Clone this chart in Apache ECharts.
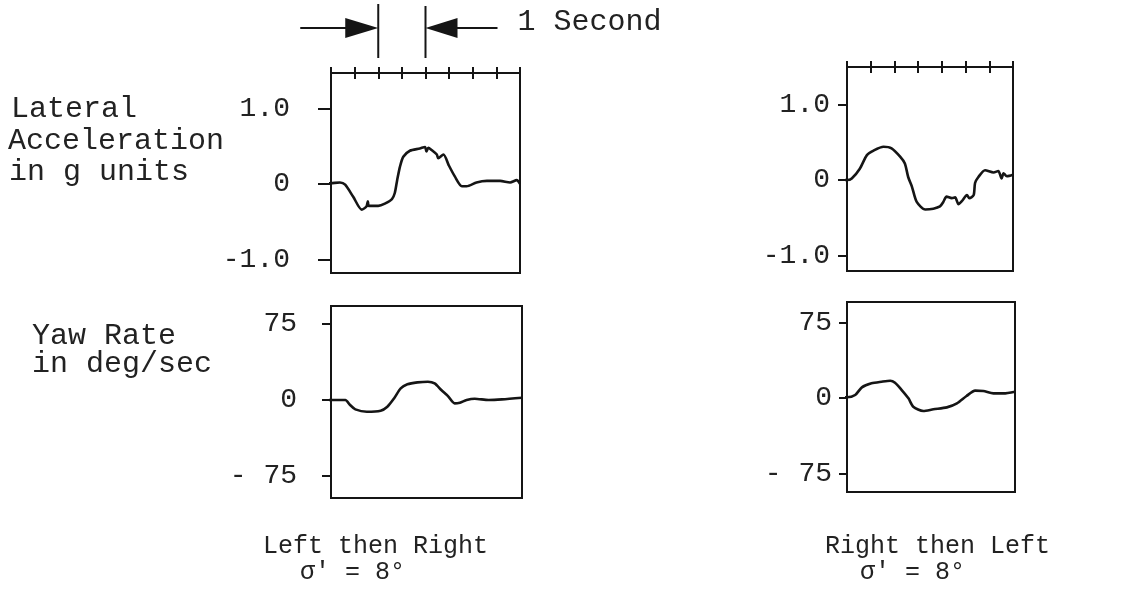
<!DOCTYPE html>
<html><head><meta charset="utf-8">
<script src="https://cdn.jsdelivr.net/npm/echarts@6/dist/echarts.min.js"></script>
<style>html,body{margin:0;padding:0;background:#fff}#c{width:1121px;height:598px}</style>
</head><body><div id="c"></div>
<script>
// ---- tick labels ----
const accelTicks = [-1, 0, 1];
const accelTickLabels = ['-1.0', '0', '1.0'];
const yawTicks = [-75, 0, 75];
const yawTickLabels = ['- 75', '0', '75'];

// ---- Left then Right (time in s) ----
const lrAccelTime = [-0.45, 0, 0.19, 0.30, 0.47, 0.65, 0.75, 0.78, 0.80, 1.0, 1.14, 1.29, 1.35, 1.40, 1.46, 1.53, 1.67, 1.88, 1.99, 2.02, 2.06, 2.13, 2.24, 2.27, 2.38, 2.49, 2.62, 2.77, 2.87, 3.08, 3.30, 3.58, 3.79, 3.93, 4.0];
const lrAccel = [0, 0.01, 0.02, -0.01, -0.17, -0.34, -0.30, -0.23, -0.29, -0.29, -0.26, -0.20, -0.12, 0.05, 0.23, 0.36, 0.44, 0.47, 0.49, 0.43, 0.48, 0.45, 0.39, 0.34, 0.39, 0.25, 0.10, -0.03, -0.03, 0.02, 0.04, 0.04, 0.02, 0.05, 0.0];
const lrYawTime = [-0.33, 0, 0.30, 0.40, 0.51, 0.75, 1.04, 1.18, 1.32, 1.46, 1.60, 1.81, 2.03, 2.17, 2.31, 2.45, 2.59, 2.70, 2.84, 3.01, 3.30, 3.58, 4.0];
const lrYaw = [0, 0, 0, -4.9, -9.2, -11.5, -10.5, -6.6, 1.6, 11.5, 15.5, 17.4, 18.1, 16.4, 9.9, 3.9, -3.3, -2.6, 0, 1.3, 0, 0.6, 2.3];

// ---- Right then Left ----
const rlAccelTime = [-0.36, 0, 0.10, 0.27, 0.42, 0.56, 0.77, 0.94, 1.12, 1.22, 1.29, 1.37, 1.47, 1.65, 1.82, 1.96, 2.03, 2.10, 2.21, 2.28, 2.35, 2.42, 2.53, 2.58, 2.67, 2.70, 2.77, 2.91, 3.09, 3.19, 3.26, 3.30, 3.37, 3.5];
const rlAccel = [0, 0, 0.02, 0.15, 0.33, 0.39, 0.44, 0.42, 0.31, 0.22, 0.04, -0.09, -0.29, -0.39, -0.38, -0.35, -0.29, -0.22, -0.24, -0.23, -0.32, -0.28, -0.20, -0.24, -0.20, -0.04, 0.04, 0.13, 0.10, 0.12, 0.02, 0.09, 0.05, 0.07];
const rlYawTime = [-0.25, 0, 0.17, 0.31, 0.51, 0.72, 0.90, 1.0, 1.14, 1.28, 1.38, 1.59, 1.80, 2.08, 2.29, 2.49, 2.67, 2.84, 3.05, 3.26, 3.5];
const rlYaw = [0.7, 0.7, 3, 10.6, 14.6, 16.2, 17.2, 15.2, 7.9, -0.3, -8.6, -12.9, -11.2, -9.3, -5.3, 2.0, 7.3, 6.9, 4.6, 4.6, 6.3];

const FONT = '"Liberation Mono", "Courier New", monospace';
const INK = '#151515';
const zip = (t, v) => t.map((x, i) => [x, v[i]]);

function topX(grid, max) {
  return {
    type: 'value', gridIndex: grid, position: 'top', offset: 6, min: 0, max: max, interval: 0.5,
    axisLine: { show: false, onZero: false }, splitLine: { show: false }, axisLabel: { show: false },
    axisTick: { show: true, inside: true, length: 12, lineStyle: { color: INK, width: 2 } }
  };
}
function hiddenX(grid, max) {
  return { type: 'value', gridIndex: grid, min: 0, max: max, show: false, axisLine: { onZero: false } };
}
function yAx(grid, min, max, ticks, labels, tickLen, margin) {
  return {
    type: 'value', gridIndex: grid, min: min, max: max,
    axisLine: { show: false, onZero: false }, splitLine: { show: false },
    axisTick: { show: true, length: tickLen, customValues: ticks, lineStyle: { color: INK, width: 2 } },
    axisLabel: {
      customValues: ticks, margin: margin, color: '#222', fontFamily: FONT, fontSize: 28,
      formatter: v => labels[ticks.indexOf(v)]
    }
  };
}
function line(xi, yi, data) {
  return {
    type: 'line', xAxisIndex: xi, yAxisIndex: yi, data: data, showSymbol: false, symbol: 'none',
    smooth: 0.25, clip: false, lineStyle: { color: INK, width: 2.6 }, silent: true
  };
}
const border = { show: true, borderColor: INK, borderWidth: 2, backgroundColor: 'transparent' };

const chart = echarts.init(document.getElementById('c'), null, { renderer: 'canvas' });
chart.setOption({
  animation: false,
  backgroundColor: '#fff',
  grid: [
    Object.assign({ left: 331, top: 73, width: 189, height: 200 }, border),
    Object.assign({ left: 331, top: 306, width: 191, height: 192 }, border),
    Object.assign({ left: 847, top: 67, width: 166, height: 204 }, border),
    Object.assign({ left: 847, top: 302, width: 168, height: 190 }, border)
  ],
  xAxis: [
    topX(0, 4), hiddenX(1, 4),
    topX(2, 3.5), hiddenX(3, 3.5)
  ],
  yAxis: [
    yAx(0, -1.18, 1.47, accelTicks, accelTickLabels, 13, 41),
    yAx(1, -96.7, 92.8, yawTicks, yawTickLabels, 9, 34),
    yAx(2, -1.205, 1.497, accelTicks, accelTickLabels, 9, 17),
    yAx(3, -93.4, 95.4, yawTicks, yawTickLabels, 8, 15)
  ],
  series: [
    line(0, 0, zip(lrAccelTime, lrAccel)),
    line(1, 1, zip(lrYawTime, lrYaw)),
    line(2, 2, zip(rlAccelTime, rlAccel)),
    line(3, 3, zip(rlYawTime, rlYaw))
  ]
});

// "1 Second" marker placed via the top-left axis scale (t = 1 s and 2 s)
const x1 = chart.convertToPixel({ xAxisIndex: 0 }, 1);
const x2 = chart.convertToPixel({ xAxisIndex: 0 }, 2);
const ay = 28;
function txt(text, x, y, size) {
  return { type: 'text', x: x, y: y, silent: true,
    style: { text: text, fill: '#222', font: size + 'px ' + FONT, align: 'left', verticalAlign: 'middle' } };
}
chart.setOption({
  graphic: [
    { type: 'line', shape: { x1: x1 - 78, y1: ay, x2: x1 - 30, y2: ay }, style: { stroke: INK, lineWidth: 2 } },
    { type: 'polygon', shape: { points: [[x1 - 33, ay - 10], [x1, ay], [x1 - 33, ay + 10]] }, style: { fill: INK } },
    { type: 'line', shape: { x1: x1, y1: 4, x2: x1, y2: 58 }, style: { stroke: INK, lineWidth: 2 } },
    { type: 'line', shape: { x1: x2, y1: 6, x2: x2, y2: 58 }, style: { stroke: INK, lineWidth: 2 } },
    { type: 'polygon', shape: { points: [[x2 + 32, ay - 10], [x2, ay], [x2 + 32, ay + 10]] }, style: { fill: INK } },
    { type: 'line', shape: { x1: x2 + 30, y1: ay, x2: x2 + 72, y2: ay }, style: { stroke: INK, lineWidth: 2 } },
    txt('1 Second', x2 + 92, 22, 30),
    txt('Lateral', 11, 109, 30),
    txt('Acceleration', 8, 141, 30),
    txt('in g units', 9, 172, 30),
    txt('Yaw Rate', 32, 336, 30),
    txt('in deg/sec', 32, 364, 30),
    txt('Left then Right', 263, 546, 25),
    txt("σ' = 8°", 300, 572, 25),
    txt('Right then Left', 825, 546, 25),
    txt("σ' = 8°", 860, 572, 25)
  ]
});
</script></body></html>
